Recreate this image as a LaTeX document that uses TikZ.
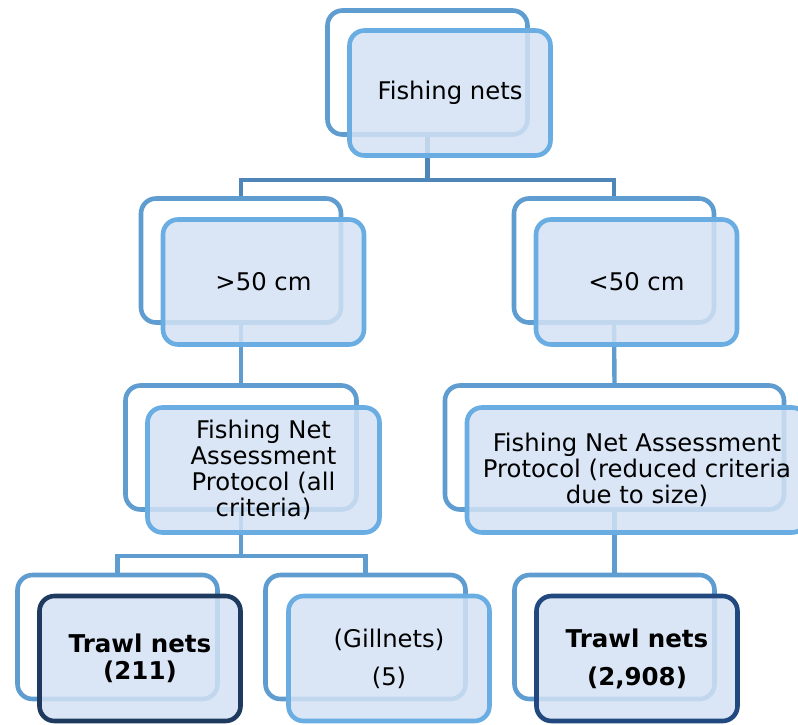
\documentclass[tikz,border=0pt]{standalone}
\usepackage{fontspec}
\setmainfont{DejaVu Sans}
\usetikzlibrary{positioning}

\definecolor{backline}{HTML}{5F9DD1}
\definecolor{frontline}{HTML}{6AADE2}
\definecolor{boxfill}{HTML}{D3E2F4}
\definecolor{busline}{HTML}{4F86BA}
\definecolor{navyA}{HTML}{1E3A5F}
\definecolor{navyB}{HTML}{21497F}

\begin{document}
\begin{tikzpicture}[x=1pt,y=-1pt,
    back/.style={draw=backline, line width=4.6pt, rounded corners=15pt,
        minimum width=200pt, minimum height=124pt, inner sep=0pt},
    front/.style={draw=frontline, line width=4.6pt, rounded corners=15pt,
        fill=boxfill, fill opacity=0.85, text opacity=1,
        minimum width=201pt, minimum height=125pt, inner sep=0pt,
        align=center, font=\fontsize{24.3}{26}\selectfont},
    final/.style={front, font=\fontsize{24.5}{27}\selectfont\bfseries},
    conn/.style={draw=backline, line width=4.4pt}]
    \clip (0,0) rectangle (798,724);

    % back frames
    \node[back] (topb) at (427.5,72.5) {};
    \node[back] (l2lb) at (241,260.5) {};
    \node[back] (l2rb) at (614,260.5) {};
    \node[back, minimum width=231pt] (l3lb) at (241,447.5) {};
    \node[back, minimum width=339pt] (l3rb) at (614.5,447.5) {};
    \node[back] (trawlab) at (117.5,637) {};
    \node[back] (gillb) at (365.5,637) {};
    \node[back] (trawlbb) at (614.5,637) {};

    % connectors
    \draw[conn, draw=busline] (topb.south) -- ++(0,43) -| (l2lb.north);
    \draw[conn, draw=busline] (topb.south) ++(0,43) -| (l2rb.north);
    \draw[conn] (l2lb.south) -- (l3lb.north);
    \draw[conn] (l2rb.south) -- (l3rb.north);
    \draw[conn] (l3lb.south) -- ++(0,44) -| (trawlab.north);
    \draw[conn] (l3lb.south) ++(0,44) -| (gillb.north);
    \draw[conn] (l3rb.south) -- (trawlbb.north);

    % front boxes
    \node[front] (top) at ([shift={(22.5,20.5)}]topb.center) {Fishing nets};
    \node[front] (l2l) at ([shift={(22.5,21.5)}]l2lb.center) {>50 cm};
    \node[front] (l2r) at ([shift={(22.5,21.5)}]l2rb.center) {<50 cm};
    \node[front, minimum width=232pt] (l3l) at ([shift={(22.5,22.5)}]l3lb.center)
        {Fishing Net\\Assessment\\Protocol (all\\criteria)};
    \node[front, minimum width=340pt] (l3r) at ([shift={(22.5,22.5)}]l3rb.center)
        {Fishing Net Assessment\\Protocol (reduced criteria\\due to size)};
    \node[final, draw=navyA] (trawla) at ([shift={(22.5,21.5)}]trawlab.center)
        {Trawl nets\\(211)};
    \node[front] (gill) at ([shift={(23.5,21.5)}]gillb.center)
        {(Gillnets)\\[12pt](5)};
    \node[final, draw=navyB] (trawlb) at ([shift={(22.5,21.5)}]trawlbb.center)
        {Trawl nets\\[11pt](2,908)};
\end{tikzpicture}
\end{document}
